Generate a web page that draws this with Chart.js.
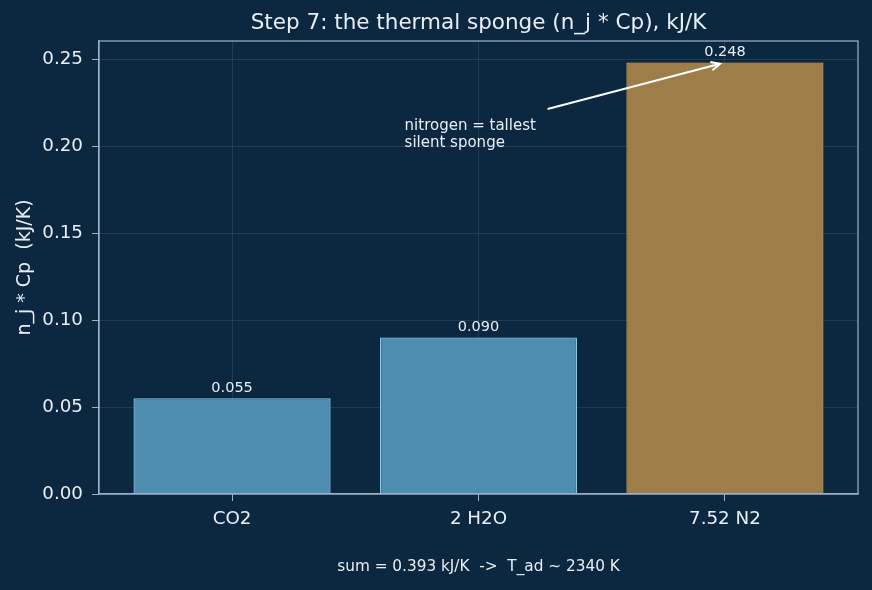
<!DOCTYPE html>
<html>
<head>
<meta charset="utf-8">
<script src="https://cdn.jsdelivr.net/npm/chart.js@4.4.1/dist/chart.umd.min.js"></script>
<style>
  html, body { margin: 0; padding: 0; background: #0c2840; }
  #wrap { width: 872px; height: 590px; }
</style>
</head>
<body>
<div id="wrap"><canvas id="c" width="872" height="590"></canvas></div>
<script>
var categories = ['CO2', '2 H2O', '7.52 N2'];
var heatCap = [0.055, 0.090, 0.248];
var valueLabels = ['0.055', '0.090', '0.248'];
var yTicks = [0, 0.05, 0.10, 0.15, 0.20, 0.25];
var titleText = 'Step 7: the thermal sponge (n_j * Cp), kJ/K';
var yTitle = 'n_j * Cp  (kJ/K)';
var footText = 'sum = 0.393 kJ/K  ->  T_ad ~ 2340 K';
var noteLines = ['nitrogen = tallest', 'silent sponge'];
var noteAt = { x: 0.7, y: 0.20 };
var noteTarget = { x: 2, y: 0.248 };

var FONT = "'DejaVu Sans', sans-serif";
var TXT = '#e8eef4';
var EDGE = '#9fb2c6';

var fills = ['rgba(82,145,180,0.97)', 'rgba(82,145,180,0.97)', 'rgba(160,127,72,0.98)'];
var edges = ['#86c8e6', '#86c8e6', '#cf9f50'];

var extras = {
  id: 'extras',
  afterDraw: function(chart) {
    var c = chart.ctx, a = chart.chartArea;
    var xs = chart.scales.x, ys = chart.scales.y;
    c.save();
    // frame
    c.strokeStyle = EDGE; c.lineWidth = 1.2;
    c.strokeRect(a.left, a.top, a.right - a.left, a.bottom - a.top);
    // value labels
    c.fillStyle = TXT; c.font = '14.5px ' + FONT;
    c.textAlign = 'center'; c.textBaseline = 'bottom';
    heatCap.forEach(function(v, i) {
      c.fillText(valueLabels[i], xs.getPixelForValue(i), ys.getPixelForValue(v) - 3);
    });
    // annotation text
    c.font = '15px ' + FONT; c.textAlign = 'left'; c.textBaseline = 'bottom';
    var tx = xs.getPixelForValue(noteAt.x), ty = ys.getPixelForValue(noteAt.y);
    c.fillText(noteLines[1], tx, ty + 5);
    c.fillText(noteLines[0], tx, ty - 12);
    // arrow, shrunk a little at the head like matplotlib
    var x0 = tx + 143, y0 = ty - 37;
    var x1 = xs.getPixelForValue(noteTarget.x), y1 = ys.getPixelForValue(noteTarget.y);
    var ang = Math.atan2(y1 - y0, x1 - x0);
    x1 -= 5 * Math.cos(ang); y1 -= 5 * Math.sin(ang);
    c.strokeStyle = '#ffffff'; c.lineWidth = 2;
    c.beginPath(); c.moveTo(x0, y0); c.lineTo(x1, y1); c.stroke();
    c.beginPath();
    c.moveTo(x1 - 10 * Math.cos(ang - 0.45), y1 - 10 * Math.sin(ang - 0.45));
    c.lineTo(x1, y1);
    c.lineTo(x1 - 10 * Math.cos(ang + 0.45), y1 - 10 * Math.sin(ang + 0.45));
    c.stroke();
    // title and footer
    var mid = (a.left + a.right) / 2;
    c.textAlign = 'center'; c.textBaseline = 'middle';
    c.font = '21.5px ' + FONT; c.fillStyle = TXT;
    c.fillText(titleText, mid, 23);
    c.font = '15.3px ' + FONT;
    c.fillText(footText, mid, 567);
    c.restore();
  }
};

new Chart(document.getElementById('c'), {
  type: 'bar',
  data: {
    datasets: [{
      data: heatCap.map(function(v, i) { return { x: i, y: v }; }),
      backgroundColor: fills,
      borderColor: edges,
      borderWidth: 1.3,
      categoryPercentage: 1,
      barPercentage: 0.8
    }]
  },
  options: {
    responsive: false,
    animation: false,
    layout: { padding: { left: 0, right: 14, top: 41, bottom: 46 } },
    plugins: { legend: { display: false }, tooltip: { enabled: false } },
    scales: {
      x: {
        type: 'linear', min: -0.54, max: 2.54, offset: false, z: 1,
        afterBuildTicks: function(s) { s.ticks = categories.map(function(_, i) { return { value: i }; }); },
        afterFit: function(s) { s.height = 50; },
        grid: { offset: false, color: 'rgba(255,255,255,0.09)', tickColor: EDGE, tickLength: 7, drawOnChartArea: true },
        border: { color: EDGE, width: 1.2 },
        ticks: { color: TXT, font: { family: FONT, size: 18.3 }, padding: 7, maxRotation: 0,
          callback: function(v) { return categories[v]; } }
      },
      y: {
        min: 0, max: 0.2604, z: 1,
        afterBuildTicks: function(s) { s.ticks = yTicks.map(function(v) { return { value: v }; }); },
        afterFit: function(s) { s.width = 99; },
        grid: { color: 'rgba(255,255,255,0.09)', tickColor: EDGE, tickLength: 7 },
        border: { color: EDGE, width: 1.2 },
        title: { display: true, text: yTitle, color: TXT, font: { family: FONT, size: 19 }, padding: { top: 14, bottom: 0 } },
        ticks: { color: TXT, font: { family: FONT, size: 18.3 }, padding: 9,
          callback: function(v) { return v.toFixed(2); } }
      }
    }
  },
  plugins: [extras]
});
</script>
</body>
</html>
